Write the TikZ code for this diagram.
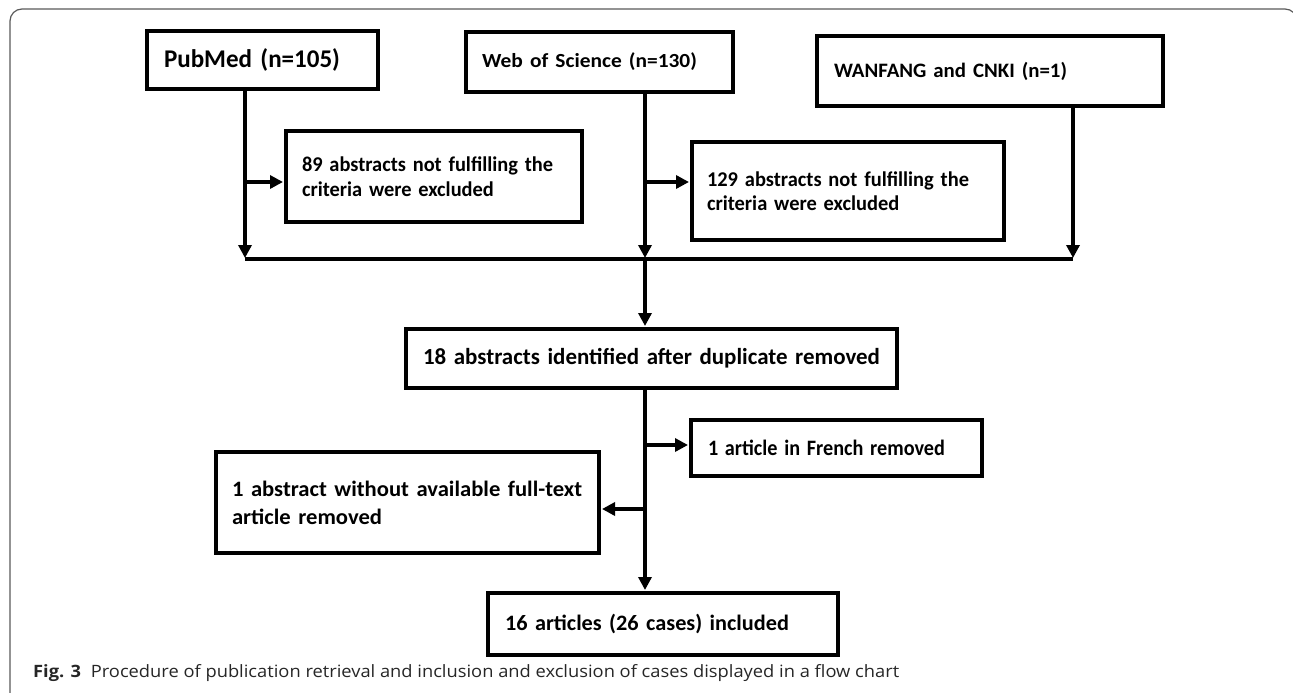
\documentclass[tikz,border=0pt]{standalone}
\usepackage{fontspec}
\usepackage{graphicx}
\setmainfont{Carlito}
\newfontfamily\capfont{Open Sans}
\usetikzlibrary{arrows.meta}
\newcommand{\ind}[1]{\hspace*{#1pt}}
\newcommand{\lift}[1]{\par\vspace{#1pt}}
\newlength\natw
\newcommand{\fitto}[2]{\settowidth{\natw}{#2}\pgfmathsetmacro\fitfac{#1/\the\natw}\scalebox{\fitfac}[1]{#2}}
\newcommand{\sameas}[1]{\scalebox{\fitfac}[1]{#1}}
\begin{document}
\begin{tikzpicture}[x=1pt,y=-1pt,
  box/.style={draw, line width=4pt, anchor=north west, inner sep=0pt, align=left,
    font=\bfseries\fontsize{22}{25}\selectfont},
  conn/.style={line width=3.5pt},
  arr/.style={line width=3.5pt, shorten >=1pt, -{Triangle[length=13pt,width=13pt]}},
  frame/.style={line width=1.2pt, draw=black!65, rounded corners=12pt}
]
\useasboundingbox (0,0) rectangle (1293,693);
\draw[frame] (10,720) -- (10,9) -- (1297,9) -- (1297,720);

% source boxes
\node[box, text width=231pt, minimum height=58pt, font=\bfseries\fontsize{25.5}{30}\selectfont] (pub) at (145,29) {\ind{17}\fitto{176}{PubMed (n=105)}\lift{-8}};
\node[box, text width=267pt, minimum height=60pt, font=\bfseries\fontsize{20}{24}\selectfont] (wos) at (464,30) {\ind{16}\fitto{215}{Web of Science (n=130)}\lift{-4}};
\node[box, text width=346pt, minimum height=70pt, font=\bfseries\fontsize{20.5}{24}\selectfont] (wan) at (815,34) {\ind{17}\fitto{233}{WANFANG and CNKI (n=1)}\lift{10}};

% exclusion boxes
\node[box, text width=296pt, minimum height=91pt, font=\bfseries\fontsize{21}{24.5}\selectfont] (b89) at (284,129) {\ind{16}\fitto{251}{89 abstracts not fulfilling the}\\\ind{16}\sameas{criteria were excluded}\lift{6}};
\node[box, text width=312pt, minimum height=98pt, font=\bfseries\fontsize{21}{24.5}\selectfont] (b129) at (690,140) {\ind{15}\fitto{262}{129 abstracts not fulfilling the}\\\ind{15}\sameas{criteria were excluded}\lift{14}};

% later steps
\node[box, text width=491pt, minimum height=59pt, align=center, font=\bfseries\fontsize{23}{27}\selectfont] (b18) at (404,327) {\fitto{457}{18 abstracts identified after duplicate removed}};
\node[box, text width=291pt, minimum height=56pt] (fr) at (689,418) {\ind{17}\fitto{237}{1 article in French removed}};
\node[box, text width=383pt, minimum height=101pt, font=\bfseries\fontsize{22}{28}\selectfont] (ab) at (214,450) {\ind{16}\fitto{350}{1 abstract without available full-text}\\\ind{16}\sameas{article removed}\lift{4}};
\node[box, text width=350pt, minimum height=62pt] (b16) at (486,591) {\ind{17}\fitto{284}{16 articles (26 cases) included}};

% junction coordinates
\coordinate (hL) at (245,259);
\coordinate (hM) at (645,259);
\coordinate (hR) at (1073,259);
\coordinate (pubbr) at (245,182);
\coordinate (wosbr) at (645,182);
\coordinate (frbr) at (645,445);
\coordinate (abbr) at (645,509);

% connectors
\draw[arr] (pub.south -| hL) -- (hL);
\draw[arr] (wos.south -| hM) -- (hM);
\draw[arr] (wan.south -| hR) -- (hR);
\draw[conn] (hL) -- (hR);
\draw[arr] (pubbr) -- (pubbr -| b89.west);
\draw[arr] (wosbr) -- (wosbr -| b129.west);
\draw[arr] (hM) -- (hM |- b18.north);
\draw[arr] (hM |- b18.south) -- (hM |- b16.north);
\draw[arr] (frbr) -- (frbr -| fr.west);
\draw[arr] (abbr) -- (abbr -| ab.east);

% caption
\node[anchor=base west, inner sep=0pt, font=\capfont\fontsize{17}{20}\selectfont, text=black!85] (cap) at (33,677)
  {\fitto{866}{\textbf{Fig. 3}\hspace{9pt}Procedure of publication retrieval and inclusion and exclusion of cases displayed in a flow chart}};
\end{tikzpicture}
\end{document}
